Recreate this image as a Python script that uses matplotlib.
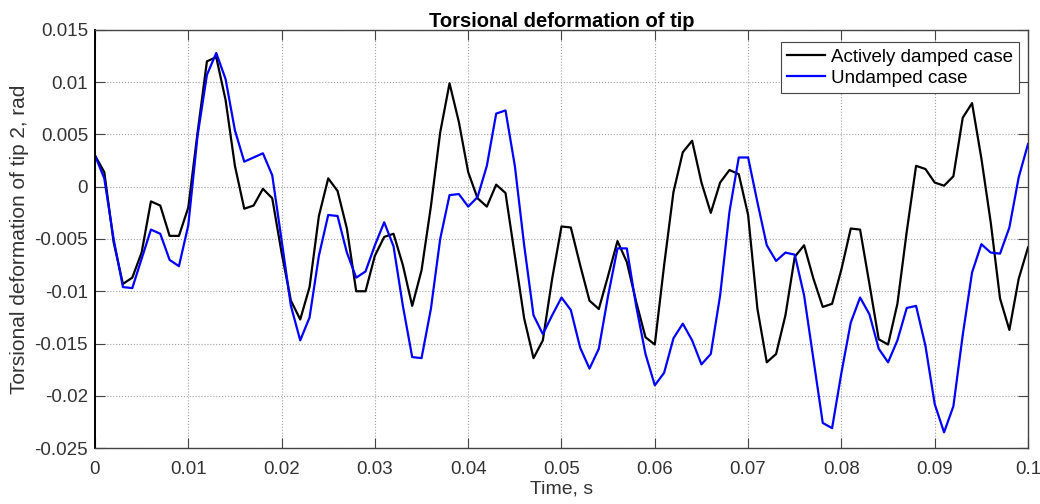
"""
VIEW: TORSIONAL DEFORMATION OF TIP 2
"""

# IMPORTS
import numpy as np
import matplotlib
matplotlib.use("Agg")
import matplotlib.pyplot as plt
from matplotlib.ticker import FuncFormatter


# PARAMETERS
DT = 0.001

damped = [
    0.0030, 0.0014, -0.0053, -0.0093, -0.0087, -0.0063, -0.0014, -0.0018, -0.0047, -0.0047,
    -0.0020, 0.0052, 0.0120, 0.0124, 0.0083, 0.0020, -0.0021, -0.0018, -0.0002, -0.0011,
    -0.0063, -0.0109, -0.0127, -0.0096, -0.0028, 0.0008, -0.0004, -0.0040, -0.0100, -0.0100,
    -0.0066, -0.0048, -0.0045, -0.0075, -0.0114, -0.0080, -0.0019, 0.0052, 0.0099, 0.0062,
    0.0014, -0.0011, -0.0019, 0.0002, -0.0006, -0.0066, -0.0126, -0.0164, -0.0147, -0.0088,
    -0.0038, -0.0039, -0.0075, -0.0109, -0.0117, -0.0085, -0.0052, -0.0072, -0.0110, -0.0144,
    -0.0151, -0.0075, -0.0005, 0.0033, 0.0044, 0.0004, -0.0025, 0.0004, 0.0016, 0.0012,
    -0.0027, -0.0117, -0.0168, -0.0160, -0.0123, -0.0067, -0.0056, -0.0088, -0.0115, -0.0112,
    -0.0079, -0.0040, -0.0041, -0.0093, -0.0146, -0.0151, -0.0112, -0.0043, 0.0020, 0.0017,
    0.0004, 0.0001, 0.0010, 0.0066, 0.0080, 0.0027, -0.0034, -0.0107, -0.0137, -0.0088,
    -0.0058,
]

undamped = [
    0.0030, 0.0008, -0.0050, -0.0096, -0.0097, -0.0069, -0.0041, -0.0045, -0.0070, -0.0076,
    -0.0037, 0.0049, 0.0107, 0.0128, 0.0103, 0.0054, 0.0024, 0.0028, 0.0032, 0.0011,
    -0.0051, -0.0114, -0.0147, -0.0125, -0.0066, -0.0027, -0.0028, -0.0063, -0.0087, -0.0081,
    -0.0056, -0.0034, -0.0057, -0.0114, -0.0163, -0.0164, -0.0117, -0.0050, -0.0008, -0.0007,
    -0.0019, -0.0010, 0.0020, 0.0070, 0.0073, 0.0020, -0.0056, -0.0123, -0.0141, -0.0123,
    -0.0106, -0.0118, -0.0154, -0.0174, -0.0155, -0.0104, -0.0059, -0.0059, -0.0114, -0.0160,
    -0.0190, -0.0178, -0.0145, -0.0131, -0.0147, -0.0170, -0.0160, -0.0104, -0.0024, 0.0028,
    0.0028, -0.0015, -0.0056, -0.0071, -0.0063, -0.0065, -0.0104, -0.0165, -0.0226, -0.0231,
    -0.0178, -0.0130, -0.0106, -0.0122, -0.0155, -0.0168, -0.0147, -0.0116, -0.0114, -0.0152,
    -0.0208, -0.0235, -0.0210, -0.0142, -0.0082, -0.0055, -0.0063, -0.0064, -0.0039, 0.0009,
    0.0041,
]

x_ticks = [0, 0.01, 0.02, 0.03, 0.04, 0.05, 0.06, 0.07, 0.08, 0.09, 0.1]
y_ticks = [-0.025, -0.02, -0.015, -0.01, -0.005, 0, 0.005, 0.01, 0.015]


# PROGRAM
plt.rcParams['font.family'] = ['Liberation Sans', 'DejaVu Sans']
plt.rcParams['axes.unicode_minus'] = False

t = np.arange(len(damped)) * DT

fig = plt.figure(figsize=(10.4, 5.04), dpi=100)
ax = fig.add_axes([0.0913, 0.1111, 0.8972, 0.8294])

ax.plot(t, damped, color='black', linewidth=1.6, label='Actively damped case')
ax.plot(t, undamped, color='#0000ff', linewidth=1.6, label='Undamped case')

ax.set_xlim(0, 0.1)
ax.set_ylim(-0.025, 0.015)
ax.set_xticks(x_ticks)
ax.set_yticks(y_ticks)
fmt = FuncFormatter(lambda v, pos: f"{v:g}")
ax.xaxis.set_major_formatter(fmt)
ax.yaxis.set_major_formatter(fmt)
ax.tick_params(direction='in', top=True, right=True, labelsize=13.5,
               length=7, width=0.8, colors='#444444', labelcolor='#333333')
ax.tick_params(axis='x', pad=9)
ax.tick_params(axis='y', pad=5)

ax.grid(color='#a0a0a0', linestyle=':', linewidth=0.8)
for side in ax.spines.values():
    side.set_color('#444444')
    side.set_linewidth(1.0)
ax.spines['left'].set_color('black')
ax.spines['left'].set_linewidth(1.4)

ax.set_xlabel('Time, s', fontsize=14, labelpad=2, color='#333333')
ax.set_ylabel('Torsional deformation of tip 2, rad', fontsize=15, labelpad=4, color='#333333')
ax.set_title('Torsional deformation of tip', fontsize=14.5, fontweight='bold', pad=2)

leg = ax.legend(loc='upper right', bbox_to_anchor=(0.9905, 0.971), fontsize=13.5,
                fancybox=False, framealpha=1, edgecolor='#444444',
                handlelength=2.0, handletextpad=0.3, borderpad=0.35,
                labelspacing=0.2, borderaxespad=0)
leg.get_frame().set_linewidth(0.8)

fig.savefig('out.png', dpi=100)
